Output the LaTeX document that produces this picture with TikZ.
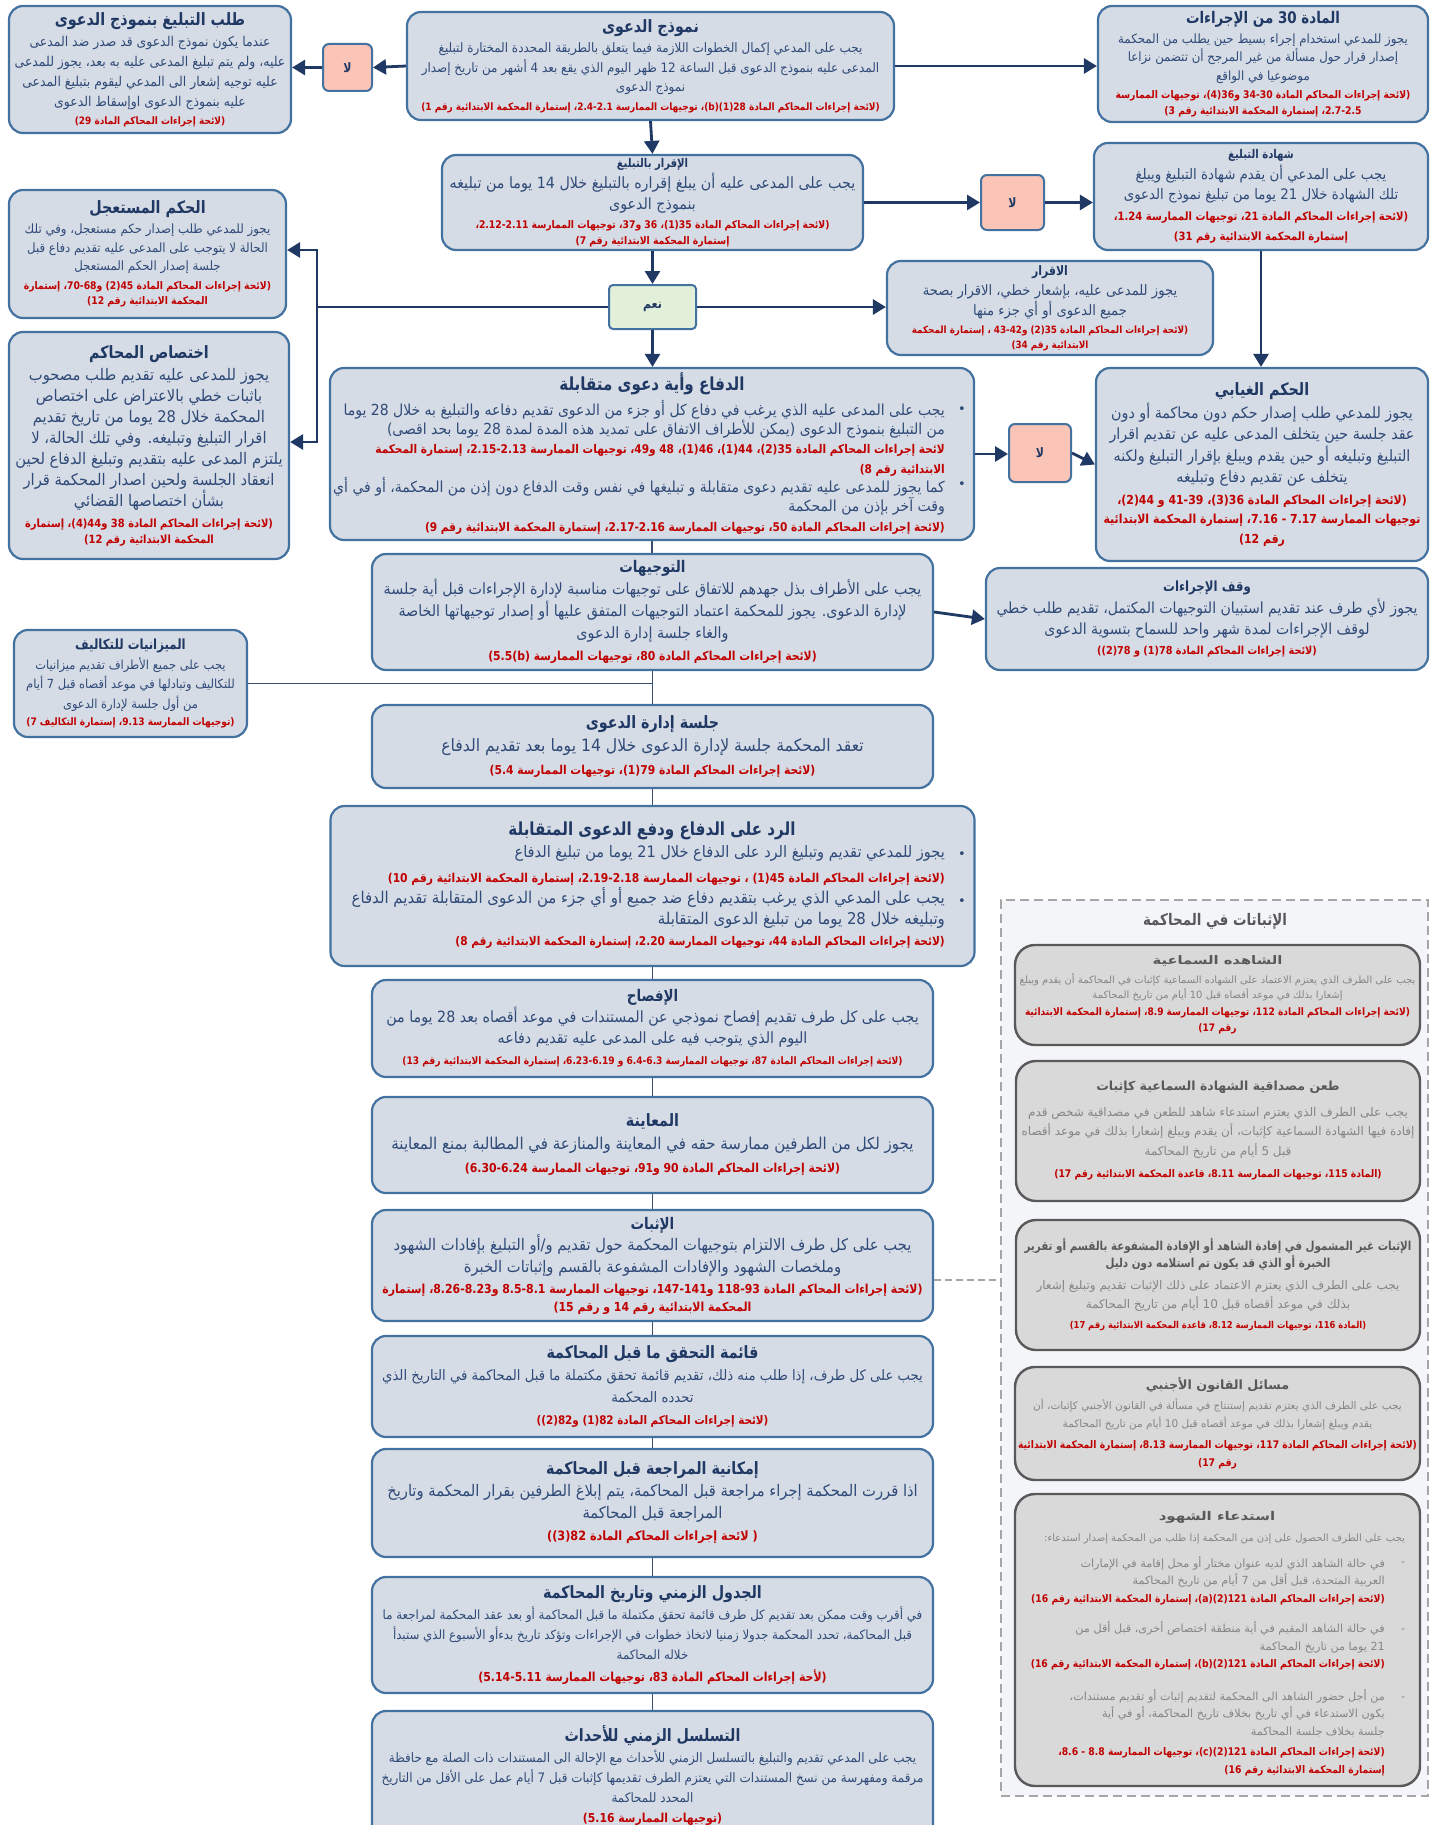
\documentclass[tikz,border=0pt]{standalone}
\usepackage{fontspec}
\usetikzlibrary{arrows.meta,calc}
\setmainfont{DejaVu Sans}
\newfontfamily\arB[Script=Arabic,FakeStretch=0.92]{DejaVu Sans}
\newfontfamily\arR[Script=Arabic,FakeStretch=0.88]{DejaVu Sans}
\newfontfamily\arT[Script=Arabic,FakeStretch=0.84]{DejaVu Sans}
\newfontfamily\arG[Script=Arabic]{DejaVu Sans}
\newfontfamily\arGW[Script=Arabic,FakeStretch=1.25]{DejaVu Sans}
\newfontfamily\latfont[FakeStretch=0.88]{DejaVu Sans}
\TeXXeTstate=1
\definecolor{boxfill}{HTML}{D6DCE5}
\definecolor{boxline}{HTML}{4472A0}
\definecolor{titlec}{HTML}{1F3864}
\definecolor{bodyc}{HTML}{2F4A78}
\definecolor{refc}{HTML}{C00000}
\definecolor{arrc}{HTML}{1F3864}
\definecolor{nofill}{HTML}{FAC4B6}
\definecolor{yesfill}{HTML}{E2F0D9}
\definecolor{panelfill}{HTML}{F3F5F9}
\definecolor{panelline}{HTML}{A6A6A6}
\definecolor{gfill}{HTML}{D9D9D9}
\definecolor{gline}{HTML}{595959}
\definecolor{gtext}{HTML}{858585}
\definecolor{gtitle}{HTML}{595959}
\definecolor{connc}{HTML}{3A4E70}
\newcommand\ltrx[1]{\beginL{\latfont#1}\endL}
\newcommand\xTL[2]{{\arT\fontsize{#1}{#1}\selectfont\bfseries\color{titlec}#2}}
\newcommand\xBL[2]{{\arB\fontsize{#1}{#1}\selectfont\color{bodyc}#2}}
\newcommand\xRL[2]{{\arR\fontsize{#1}{#1}\selectfont\bfseries\color{refc}#2}}
\newcommand\xGT[2]{{\arG\fontsize{#1}{#1}\selectfont\bfseries\color{gtitle}#2}}
\newcommand\xGW[2]{{\arGW\fontsize{#1}{#1}\selectfont\bfseries\color{gtitle}#2}}
\newcommand\xGS[2]{{\arT\fontsize{#1}{#1}\selectfont\bfseries\color{gtitle}#2}}
\newcommand\xGB[2]{{\arG\fontsize{#1}{#1}\selectfont\color{gtext}#2}}
\tikzset{
 box/.style={draw=boxline, line width=2.2pt, fill=boxfill, rounded corners=14pt, inner sep=0pt, align=center},
 gbox/.style={draw=gline, line width=2.4pt, fill=gfill, rounded corners=20pt, inner sep=0pt, align=center},
 nobox/.style={draw=boxline, line width=2pt, fill=nofill, rounded corners=6pt, inner sep=0pt},
 yesbox/.style={draw=boxline, line width=2pt, fill=yesfill, rounded corners=4pt, inner sep=0pt},
 txt/.style={inner sep=0pt, align=center},
 arr/.style={draw=arrc, line width=2.8pt, -{Triangle[length=13pt,width=15pt]}},
 conn/.style={draw=connc, line width=1.6pt},
 dconn/.style={draw=panelline, line width=2pt, dash pattern=on 7pt off 4pt},
 panelbox/.style={draw=panelline, line width=2pt, dash pattern=on 9pt off 5pt, fill=panelfill},
 bul/.style={inner sep=0pt, text=bodyc, font=\fontsize{13}{13}\selectfont},
 gbul/.style={inner sep=0pt, text=gtext, font=\fontsize{11}{11}\selectfont},
}
\begin{document}
\begin{tikzpicture}[x=1pt,y=-1pt]
\useasboundingbox (0,0) rectangle (1430,1825);
\fill[white] (0,0) rectangle (1430,1825);

% right panel
\node[panelbox, minimum width=427pt, minimum height=896pt] (panel) at (1214.5,1348) {};
\node[txt] (ptitle) at (1215,921) {\xGS{16}{\beginR الإثباتات في المحاكمة\endR}};

% top row
\node[box, minimum width=282pt, minimum height=127pt, font=\fontsize{13.6}{20}\selectfont] (A) at (150,69.5) {%
\xTL{17}{\beginR طلب التبليغ بنموذج الدعوى\endR}\\[1pt]
\xBL{13.5}{\beginR عندما يكون نموذج الدعوى قد صدر ضد المدعى\endR}\\
\xBL{13.5}{\beginR عليه، ولم يتم تبليغ المدعى عليه به بعد، يجوز للمدعى\endR}\\
\xBL{13.5}{\beginR عليه توجيه إشعار الى المدعي ليقوم بتبليغ المدعى\endR}\\
\xBL{13.5}{\beginR عليه بنموذج الدعوى اوإسقاط الدعوى\endR}\\[-2pt]
\xRL{10.2}{\beginR (لائحة إجراءات المحاكم المادة \ltrx{(29}\endR}};

\node[nobox, minimum width=49pt, minimum height=47pt] (no1) at (347.5,67.5) {\xTL{13}{\beginR لا\endR}};

\node[box, minimum width=487pt, minimum height=108pt, font=\fontsize{13}{19.5}\selectfont] (B) at (650.5,66) {%
\xTL{17}{\beginR نموذج الدعوى\endR}\\[1pt]
\xBL{13}{\beginR يجب على المدعي إكمال الخطوات اللازمة فيما يتعلق بالطريقة المحددة المختارة لتبليغ\endR}\\
\xBL{13}{\beginR المدعى عليه بنموذج الدعوى قبل الساعة 12 ظهر اليوم الذي يقع بعد 4 أشهر من تاريخ إصدار\endR}\\
\xBL{13}{\beginR نموذج الدعوى\endR}\\[-1pt]
\xRL{10.2}{\beginR (لائحة إجراءات المحاكم المادة \ltrx{(b)(1)28}، توجيهات الممارسة \ltrx{2.4-2.1}، إستمارة المحكمة الابتدائية رقم \ltrx{(1}\endR}};

\node[box, minimum width=330pt, minimum height=116pt, font=\fontsize{13}{18.5}\selectfont] (C) at (1263,64) {%
\xTL{16}{\beginR المادة 30 من الإجراءات\endR}\\[1pt]
\xBL{12.8}{\beginR يجوز للمدعي استخدام إجراء بسيط حين يطلب من المحكمة\endR}\\
\xBL{12.8}{\beginR إصدار قرار حول مسألة من غير المرجح أن تتضمن نزاعا\endR}\\
\xBL{12.8}{\beginR موضوعيا في الواقع\endR}\\
\xRL{10.5}{\beginR (لائحة إجراءات المحاكم المادة \ltrx{34-30} و\ltrx{(4)36}، توجيهات الممارسة\endR}\\[-3pt]
\xRL{10.5}{\beginR \ltrx{2.7-2.5}، إستمارة المحكمة الابتدائية رقم \ltrx{(3}\endR}};

% second row
\node[box, minimum width=421pt, minimum height=95pt, font=\fontsize{15.5}{21}\selectfont] (D) at (652.5,202.5) {%
\xTL{12}{\beginR الإقرار بالتبليغ\endR}\\
\xBL{15.5}{\beginR يجب على المدعى عليه أن يبلغ إقراره بالتبليغ خلال 14 يوما من تبليغه\endR}\\
\xBL{15.5}{\beginR بنموذج الدعوى\endR}\\[-2pt]
\xRL{10.5}{\beginR (لائحة إجراءات المحاكم المادة \ltrx{(1)35}، 36 و\ltrx{37}، توجيهات الممارسة \ltrx{2.12-2.11}،\endR}\\[-5pt]
\xRL{10.5}{\beginR إستمارة المحكمة الابتدائية رقم \ltrx{(7}\endR}};

\node[nobox, minimum width=63pt, minimum height=55pt] (no2) at (1012.5,202.5) {\xTL{13}{\beginR لا\endR}};

\node[box, minimum width=334pt, minimum height=107pt, font=\fontsize{14.5}{20.5}\selectfont] (E) at (1261,196.5) {%
\xTL{12}{\beginR شهادة التبليغ\endR}\\
\xBL{14.5}{\beginR يجب على المدعي أن يقدم شهادة التبليغ ويبلغ\endR}\\
\xBL{14.5}{\beginR تلك الشهادة خلال 21 يوما من تبليغ نموذج الدعوى\endR}\\
\xRL{11.4}{\beginR (لائحة إجراءات المحاكم المادة \ltrx{21}، توجيهات الممارسة \ltrx{1.24}،\endR}\\
\xRL{11.4}{\beginR إستمارة المحكمة الابتدائية رقم \ltrx{(31}\endR}};

\node[yesbox, minimum width=87pt, minimum height=44pt] (F) at (652.5,307) {\xTL{13}{\beginR نعم\endR}};

\node[box, minimum width=326pt, minimum height=94pt, font=\fontsize{14.3}{20}\selectfont] (G) at (1050,308) {%
\xTL{13}{\beginR الاقرار\endR}\\
\xBL{14.3}{\beginR يجوز للمدعى عليه، بإشعار خطي، الاقرار بصحة\endR}\\
\xBL{14.3}{\beginR جميع الدعوى أو أي جزء منها\endR}\\[-2pt]
\xRL{10}{\beginR (لائحة إجراءات المحاكم المادة \ltrx{(2)35} و\ltrx{43-42} ، إستمارة المحكمة\endR}\\[-5pt]
\xRL{10}{\beginR الابتدائية رقم \ltrx{(34}\endR}};

\node[box, minimum width=277pt, minimum height=128pt, font=\fontsize{12.8}{18.5}\selectfont] (H) at (147.5,254) {%
\xTL{17}{\beginR الحكم المستعجل\endR}\\[2pt]
\xBL{12.8}{\beginR يجوز للمدعي طلب إصدار حكم مستعجل، وفي تلك\endR}\\
\xBL{12.8}{\beginR الحالة لا يتوجب على المدعى عليه تقديم دفاع قبل\endR}\\
\xBL{12.8}{\beginR جلسة إصدار الحكم المستعجل\endR}\\
\xRL{10.5}{\beginR (لائحة إجراءات المحاكم المادة \ltrx{(2)45} و\ltrx{70-68}، إستمارة\endR}\\[-3pt]
\xRL{10.5}{\beginR المحكمة الابتدائية رقم \ltrx{(12}\endR}};

\node[box, minimum width=280pt, minimum height=227pt, font=\fontsize{16}{21}\selectfont] (I) at (149,445.5) {%
\xTL{17}{\beginR اختصاص المحاكم\endR}\\[1pt]
\xBL{16}{\beginR يجوز للمدعى عليه تقديم طلب مصحوب\endR}\\
\xBL{16}{\beginR باثبات خطي بالاعتراض على اختصاص\endR}\\
\xBL{16}{\beginR المحكمة خلال 28 يوما من تاريخ تقديم\endR}\\
\xBL{16}{\beginR اقرار التبليغ وتبليغه. وفي تلك الحالة، لا\endR}\\
\xBL{16}{\beginR يلتزم المدعى عليه بتقديم وتبليغ الدفاع لحين\endR}\\
\xBL{16}{\beginR انعقاد الجلسة ولحين اصدار المحكمة قرار\endR}\\
\xBL{16}{\beginR بشأن اختصاصها القضائي\endR}\\
\xRL{11.3}{\beginR (لائحة إجراءات المحاكم المادة 38 و\ltrx{(4)44}، إستمارة\endR}\\[-5pt]
\xRL{11.3}{\beginR المحكمة الابتدائية رقم \ltrx{(12}\endR}};

% defence
\node[box, minimum width=644pt, minimum height=172pt] (J) at (652,454) {};
\node[txt] (Jt) at (652,384) {\xTL{18}{\beginR الدفاع وأية دعوى متقابلة\endR}};
\node[txt, anchor=north east, align=right, font=\fontsize{15}{19.3}\selectfont] (Jb) at (945,400) {%
\xBL{15.2}{\beginR يجب على المدعى عليه الذي يرغب في دفاع كل أو جزء من الدعوى تقديم دفاعه والتبليغ به خلال 28 يوما\endR}\\
\xBL{15.2}{\beginR من التبليغ بنموذج الدعوى (يمكن للأطراف الاتفاق على تمديد هذه المدة لمدة 28 يوما بحد اقصى)\endR}\\
\xRL{12}{\beginR لائحة إجراءات المحاكم المادة \ltrx{(2)35}، \ltrx{(1)44}، \ltrx{(1)46}، 48 و\ltrx{49}، توجيهات الممارسة \ltrx{2.15-2.13}، إستمارة المحكمة\endR}\\
\xRL{12}{\beginR الابتدائية رقم \ltrx{(8}\endR}\\
\xBL{15.2}{\beginR كما يجوز للمدعى عليه تقديم دعوى متقابلة و تبليغها في نفس وقت الدفاع دون إذن من المحكمة، أو في أي\endR}\\
\xBL{15.2}{\beginR وقت آخر بإذن من المحكمة\endR}\\
\xRL{12}{\beginR (لائحة إجراءات المحاكم المادة \ltrx{50}، توجيهات الممارسة \ltrx{2.17-2.16}، إستمارة المحكمة الابتدائية رقم \ltrx{(9}\endR}};
\node[bul] (Jd1) at (962,410) {•};
\node[bul] (Jd2) at (962,485) {•};

\node[nobox, minimum width=62pt, minimum height=58pt] (no3) at (1040,453) {\xTL{13}{\beginR لا\endR}};

\node[box, minimum width=332pt, minimum height=193pt, font=\fontsize{15.5}{21.5}\selectfont] (K) at (1262,464.5) {%
\xTL{17}{\beginR الحكم الغيابي\endR}\\[1pt]
\xBL{15.5}{\beginR يجوز للمدعي طلب إصدار حكم دون محاكمة أو دون\endR}\\
\xBL{15.5}{\beginR عقد جلسة حين يتخلف المدعى عليه عن تقديم اقرار\endR}\\
\xBL{15.5}{\beginR التبليغ وتبليغه أو حين يقدم ويبلغ بإقرار التبليغ ولكنه\endR}\\
\xBL{15.5}{\beginR يتخلف عن تقديم دفاع وتبليغه\endR}\\
\xRL{12.4}{\beginR (لائحة إجراءات المحاكم المادة \ltrx{(3)36}، \ltrx{41-39} و \ltrx{(2)44}،\endR}\\[-2pt]
\xRL{12.4}{\beginR توجيهات الممارسة \ltrx{7.16 - 7.17}، إستمارة المحكمة الابتدائية\endR}\\[-2pt]
\xRL{12.4}{\beginR رقم \ltrx{(12}\endR}};

% directions
\node[box, minimum width=561pt, minimum height=116pt, font=\fontsize{15.5}{22}\selectfont] (L) at (652.5,612) {%
\xTL{16}{\beginR التوجيهات\endR}\\
\xBL{15.5}{\beginR يجب على الأطراف بذل جهدهم للاتفاق على توجيهات مناسبة لإدارة الإجراءات قبل أية جلسة\endR}\\
\xBL{15.5}{\beginR لإدارة الدعوى. يجوز للمحكمة اعتماد التوجيهات المتفق عليها أو إصدار توجيهاتها الخاصة\endR}\\
\xBL{15.5}{\beginR والغاء جلسة إدارة الدعوى\endR}\\
\xRL{12.3}{\beginR (لائحة إجراءات المحاكم المادة \ltrx{80}، توجيهات الممارسة \ltrx{(5.5(b)}\endR}};

\node[box, minimum width=442pt, minimum height=102pt, font=\fontsize{15.5}{21.5}\selectfont] (M) at (1207,619) {%
\xTL{14}{\beginR وقف الإجراءات\endR}\\
\xBL{15.3}{\beginR يجوز لأي طرف عند تقديم استبيان التوجيهات المكتمل، تقديم طلب خطي\endR}\\
\xBL{15.3}{\beginR لوقف الإجراءات لمدة شهر واحد للسماح بتسوية الدعوى\endR}\\[-2pt]
\xRL{11}{\beginR (لائحة إجراءات المحاكم المادة \ltrx{(1)78} و \ltrx{((2)78}\endR}};

\node[box, minimum width=233pt, minimum height=107pt, font=\fontsize{12.5}{19.5}\selectfont] (N) at (130.5,683.5) {%
\xTL{14}{\beginR الميزانيات للتكاليف\endR}\\
\xBL{12.5}{\beginR يجب على جميع الأطراف تقديم ميزانيات\endR}\\
\xBL{12.5}{\beginR للتكاليف وتبادلها في موعد أقصاه قبل 7 أيام\endR}\\
\xBL{12.5}{\beginR من أول جلسة لإدارة الدعوى\endR}\\[-2pt]
\xRL{10.3}{\beginR (توجيهات الممارسة \ltrx{9.13}، إستمارة التكاليف \ltrx{(7}\endR}};

\node[box, minimum width=561pt, minimum height=83pt, font=\fontsize{17}{23}\selectfont] (O) at (652.5,746.5) {%
\xTL{17}{\beginR جلسة إدارة الدعوى\endR}\\
\xBL{17}{\beginR تعقد المحكمة جلسة لإدارة الدعوى خلال 14 يوما بعد تقديم الدفاع\endR}\\
\xRL{12.2}{\beginR (لائحة إجراءات المحاكم المادة \ltrx{(1)79}، توجيهات الممارسة \ltrx{(5.4}\endR}};

% reply
\node[box, minimum width=644pt, minimum height=160pt] (P) at (652.5,886) {};
\node[txt] (Pt) at (652,831) {\xTL{18}{\beginR الرد على الدفاع ودفع الدعوى المتقابلة\endR}};
\node[txt, anchor=north east, align=right, font=\fontsize{16}{21}\selectfont] (Pb) at (945,845) {%
\xBL{15.8}{\beginR يجوز للمدعي تقديم وتبليغ الرد على الدفاع خلال 21 يوما من تبليغ الدفاع\endR}\\[4pt]
\xRL{12.2}{\beginR (لائحة إجراءات المحاكم المادة \ltrx{(1)45} ، توجيهات الممارسة \ltrx{2.19-2.18}، إستمارة المحكمة الابتدائية رقم \ltrx{(10}\endR}\\
\xBL{16.2}{\beginR يجب على المدعي الذي يرغب بتقديم دفاع ضد جميع أو أي جزء من الدعوى المتقابلة تقديم الدفاع\endR}\\
\xBL{16.2}{\beginR وتبليغه خلال 28 يوما من تبليغ الدعوى المتقابلة\endR}\\
\xRL{12}{\beginR (لائحة إجراءات المحاكم المادة \ltrx{44}، توجيهات الممارسة \ltrx{2.20}، إستمارة المحكمة الابتدائية رقم \ltrx{(8}\endR}};
\node[bul] (Pd1) at (962,855) {•};
\node[bul] (Pd2) at (962,902) {•};

\node[box, minimum width=561pt, minimum height=97pt, font=\fontsize{15.5}{21}\selectfont] (Q) at (652.5,1028.5) {%
\xTL{16}{\beginR الإفصاح\endR}\\
\xBL{15.5}{\beginR يجب على كل طرف تقديم إفصاح نموذجي عن المستندات في موعد أقصاه بعد 28 يوما من\endR}\\
\xBL{15.5}{\beginR اليوم الذي يتوجب فيه على المدعى عليه تقديم دفاعه\endR}\\
\xRL{10.3}{\beginR (لائحة إجراءات المحاكم المادة \ltrx{87}، توجيهات الممارسة \ltrx{6.4-6.3} و \ltrx{6.23-6.19}، إستمارة المحكمة الابتدائية رقم \ltrx{(13}\endR}};

\node[box, minimum width=561pt, minimum height=96pt, font=\fontsize{16}{23}\selectfont] (R) at (652.5,1145) {%
\xTL{17}{\beginR المعاينة\endR}\\
\xBL{16.3}{\beginR يجوز لكل من الطرفين ممارسة حقه في المعاينة والمنازعة في المطالبة بمنع المعاينة\endR}\\
\xRL{12.3}{\beginR (لائحة إجراءات المحاكم المادة 90 و\ltrx{91}، توجيهات الممارسة \ltrx{(6.30-6.24}\endR}};

\node[box, minimum width=561pt, minimum height=111pt, font=\fontsize{16}{21.5}\selectfont] (S) at (652.5,1265.5) {%
\xTL{16}{\beginR الإثبات\endR}\\
\xBL{16}{\beginR يجب على كل طرف الالتزام بتوجيهات المحكمة حول تقديم و/أو التبليغ بإفادات الشهود\endR}\\
\xBL{16}{\beginR وملخصات الشهود والإفادات المشفوعة بالقسم وإثباتات الخبرة\endR}\\
\xRL{12.4}{\beginR (لائحة إجراءات المحاكم المادة \ltrx{118-93} و\ltrx{147-141}، توجيهات الممارسة \ltrx{8.5-8.1} و\ltrx{8.26-8.23}، إستمارة\endR}\\[-4pt]
\xRL{12.4}{\beginR المحكمة الابتدائية رقم 14 و رقم \ltrx{(15}\endR}};

\node[box, minimum width=561pt, minimum height=101pt, font=\fontsize{15}{22}\selectfont] (T) at (652.5,1386.5) {%
\xTL{17}{\beginR قائمة التحقق ما قبل المحاكمة\endR}\\
\xBL{14.4}{\beginR يجب على كل طرف، إذا طلب منه ذلك، تقديم قائمة تحقق مكتملة ما قبل المحاكمة في التاريخ الذي\endR}\\
\xBL{14.4}{\beginR تحدده المحكمة\endR}\\
\xRL{11.8}{\beginR (لائحة إجراءات المحاكم المادة \ltrx{(1)82} و\ltrx{((2)82}\endR}};

\node[box, minimum width=561pt, minimum height=108pt, font=\fontsize{16}{22}\selectfont] (U) at (652.5,1503) {%
\xTL{17}{\beginR إمكانية المراجعة قبل المحاكمة\endR}\\
\xBL{16}{\beginR اذا قررت المحكمة إجراء مراجعة قبل المحاكمة، يتم إبلاغ الطرفين بقرار المحكمة وتاريخ\endR}\\
\xBL{16}{\beginR المراجعة قبل المحاكمة\endR}\\
\xRL{12.8}{\beginR ( لائحة إجراءات المحاكم المادة \ltrx{((3)82}\endR}};

\node[box, minimum width=561pt, minimum height=116pt, font=\fontsize{13}{20}\selectfont] (V) at (652.5,1635) {%
\xTL{17}{\beginR الجدول الزمني وتاريخ المحاكمة\endR}\\[1pt]
\xBL{12.8}{\beginR في أقرب وقت ممكن بعد تقديم كل طرف قائمة تحقق مكتملة ما قبل المحاكمة أو بعد عقد المحكمة لمراجعة ما\endR}\\
\xBL{12.8}{\beginR قبل المحاكمة، تحدد المحكمة جدولا زمنيا لاتخاذ خطوات في الإجراءات وتؤكد تاريخ بدءأو الأسبوع الذي ستبدأ\endR}\\
\xBL{12.8}{\beginR خلاله المحاكمة\endR}\\[2pt]
\xRL{12.4}{\beginR (لأحة إجراءات المحاكم المادة \ltrx{83}، توجيهات الممارسة \ltrx{(5.14-5.11}\endR}};

\node[box, minimum width=561pt, minimum height=129pt, font=\fontsize{13}{20}\selectfont] (W) at (652.5,1775.5) {%
\xTL{17}{\beginR التسلسل الزمني للأحداث\endR}\\[1pt]
\xBL{13}{\beginR يجب على المدعي تقديم والتبليغ بالتسلسل الزمني للأحداث مع الإحالة الى المستندات ذات الصلة مع حافظة\endR}\\
\xBL{13}{\beginR مرقمة ومفهرسة من نسخ المستندات التي يعتزم الطرف تقديمها كإثبات قبل 7 أيام عمل على الأقل من التاريخ\endR}\\
\xBL{13}{\beginR المحدد للمحاكمة\endR}\\
\xRL{12.3}{\beginR (توجيهات الممارسة \ltrx{(5.16}\endR}};

% grey boxes in panel
\node[gbox, minimum width=405pt, minimum height=100pt, font=\fontsize{10}{16.5}\selectfont] (P1) at (1217.5,995) {%
\xGW{11.8}{\beginR الشاهده السماعية\endR}\\[2pt]
\xGB{10}{\beginR يجب على الطرف الذي يعتزم الاعتماد على الشهاده السماعية كإثبات في المحاكمة أن يقدم ويبلغ\endR}\\[-1pt]
\xGB{10}{\beginR إشعارا بذلك في موعد أقصاه قبل 10 أيام من تاريخ المحاكمة\endR}\\
\xRL{10.3}{\beginR (لائحة إجراءات المحاكم المادة \ltrx{112}، توجيهات الممارسة \ltrx{8.9}، إستمارة المحكمة الابتدائية\endR}\\
\xRL{10.3}{\beginR رقم \ltrx{(17}\endR}};

\node[gbox, minimum width=404pt, minimum height=140pt, font=\fontsize{12}{19.5}\selectfont] (P2) at (1218,1131) {%
\xGT{12.5}{\beginR طعن مصداقية الشهادة السماعية كإثبات\endR}\\[6pt]
\xGB{12}{\beginR يجب على الطرف الذي يعتزم استدعاء شاهد للطعن في مصداقية شخص قدم\endR}\\
\xGB{12}{\beginR إفادة فيها الشهادة السماعية كإثبات، أن يقدم ويبلغ إشعارا بذلك في موعد أقصاه\endR}\\
\xGB{12}{\beginR قبل 5 أيام من تاريخ المحاكمة\endR}\\[3pt]
\xRL{10.5}{\beginR (المادة \ltrx{115}، توجيهات الممارسة \ltrx{8.11}، قاعدة المحكمة الابتدائية رقم \ltrx{(17}\endR}};

\node[gbox, minimum width=404pt, minimum height=130pt, font=\fontsize{12}{19}\selectfont] (P3) at (1218,1285) {%
\xGS{12.3}{\beginR الإثبات غير المشمول في إفادة الشاهد أو الإفادة المشفوعة بالقسم أو تقرير\endR}\\[-2pt]
\xGS{12.3}{\beginR الخبرة أو الذي قد يكون تم استلامه دون دليل\endR}\\[3pt]
\xGB{12}{\beginR يجب على الطرف الذي يعتزم الاعتماد على ذلك الإثبات تقديم وتبليغ إشعار\endR}\\
\xGB{12}{\beginR بذلك في موعد أقصاه قبل 10 أيام من تاريخ المحاكمة\endR}\\[1pt]
\xRL{9.5}{\beginR (المادة \ltrx{116}، توجيهات الممارسة \ltrx{8.12}، قاعدة المحكمة الابتدائية رقم \ltrx{(17}\endR}};

\node[gbox, minimum width=405pt, minimum height=113pt, font=\fontsize{10.5}{18}\selectfont] (P4) at (1217.5,1423.5) {%
\xGT{12.7}{\beginR مسائل القانون الأجنبي\endR}\\[2pt]
\xGB{10.5}{\beginR يجب على الطرف الذي يعتزم تقديم إستنتاج في مسألة في القانون الأجنبي كإثبات، أن\endR}\\
\xGB{10.5}{\beginR يقدم ويبلغ إشعارا بذلك في موعد أقصاه قبل 10 أيام من تاريخ المحاكمة\endR}\\[3pt]
\xRL{10.5}{\beginR (لائحة إجراءات المحاكم المادة \ltrx{117}، توجيهات الممارسة \ltrx{8.13}، إستمارة المحكمة الابتدائية\endR}\\
\xRL{10.5}{\beginR رقم \ltrx{(17}\endR}};

\node[gbox, minimum width=405pt, minimum height=292pt] (P5) at (1217.5,1640) {};
\node[txt] (P5t) at (1217,1517) {\xGW{12}{\beginR استدعاء الشهود\endR}};
\node[txt, anchor=east] (P5i) at (1405,1539) {\xGB{10}{\beginR يجب على الطرف الحصول على إذن من المحكمة إذا طلب من المحكمة إصدار استدعاء:\endR}};
\node[txt, anchor=north east, align=right, font=\fontsize{11.2}{17.5}\selectfont] (P5b) at (1385,1556) {%
\xGB{11.2}{\beginR في حالة الشاهد الذي لديه عنوان مختار أو محل إقامة في الإمارات\endR}\\
\xGB{11.2}{\beginR العربية المتحدة، قبل أقل من 7 أيام من تاريخ المحاكمة\endR}\\
\xRL{10.5}{\beginR (لائحة إجراءات المحاكم المادة \ltrx{(a)(2)121}، إستمارة المحكمة الابتدائية رقم \ltrx{(16}\endR}\\[13pt]
\xGB{11.2}{\beginR في حالة الشاهد المقيم في أية منطقة اختصاص أخرى، قبل أقل من\endR}\\
\xGB{11.2}{\beginR 21 يوما من تاريخ المحاكمة\endR}\\
\xRL{10.5}{\beginR (لائحة إجراءات المحاكم المادة \ltrx{(b)(2)121}، إستمارة المحكمة الابتدائية رقم \ltrx{(16}\endR}\\[15pt]
\xGB{11.2}{\beginR من أجل حضور الشاهد الى المحكمة لتقديم إثبات أو تقديم مستندات،\endR}\\
\xGB{11.2}{\beginR يكون الاستدعاء في أي تاريخ بخلاف تاريخ المحاكمة، أو في أية\endR}\\
\xGB{11.2}{\beginR جلسة بخلاف جلسة المحاكمة\endR}\\[3pt]
\xRL{10.5}{\beginR (لائحة إجراءات المحاكم المادة \ltrx{(c)(2)121}، توجيهات الممارسة \ltrx{8.6 - 8.8}،\endR}\\
\xRL{10.5}{\beginR إستمارة المحكمة الابتدائية رقم \ltrx{(16}\endR}};
\node[gbul] (P5d1) at (1403,1564) {-};
\node[gbul] (P5d2) at (1403,1631) {-};
\node[gbul] (P5d3) at (1403,1699) {-};

% junction coordinates
\coordinate (jt) at (317,250);
\coordinate (jb) at (317,442);

% arrows
\draw[arr] (B.west) -- (no1.east);
\draw[arr] (no1.west) -- (A.east |- no1.west);
\draw[arr] (B.east) -- (C.west |- B.east);
\draw[arr] (B.south) -- (D.north);
\draw[arr] (D.east) -- (no2.west);
\draw[arr] (no2.east) -- (E.west |- no2.east);
\draw[arr] (E.south) -- (E.south |- K.north);
\draw[arr] (D.south) -- (F.north);
\draw[arr] (F.east) -- (G.west |- F.east);
\draw[arr] (F.west) -| (jt) -- (jt -| H.east);
\draw[arr] (F.west) -| (jb) -- (jb -| I.east);
\draw[arr] (F.south) -- (F.south |- J.north);
\draw[arr] (J.east) -- (no3.west |- J.east);
\draw[arr] (no3.east) -- (K.west);
\draw[arr] (L.east) -- (M.west);

% thin connectors
\draw[conn] (J.south) -- (J.south |- L.north);
\draw[conn] (L.south) -- (O.north);
\draw[conn] (N.east) -- (N.east -| L.south);
\draw[conn] (O.south) -- (P.north);
\draw[conn] (P.south) -- (Q.north);
\draw[conn] (Q.south) -- (R.north);
\draw[conn] (R.south) -- (S.north);
\draw[conn] (S.south) -- (T.north);
\draw[conn] (T.south) -- (U.north);
\draw[conn] (U.south) -- (V.north);
\draw[conn] (V.south) -- (W.north);
\draw[dconn] ([yshift=-14pt]S.east) -- ([yshift=-14pt]S.east -| panel.west);
\end{tikzpicture}
\end{document}
